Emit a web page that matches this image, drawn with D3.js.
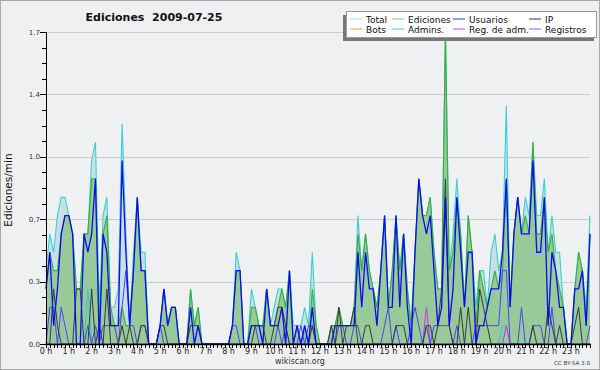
<!DOCTYPE html>
<html><head><meta charset="utf-8">
<script src="https://cdn.jsdelivr.net/npm/d3@7"></script>
<style>body{margin:0;background:#fff}svg{display:block}</style>
</head><body><svg id="c" width="600" height="370"></svg>
<script>
// 10-minute bins, edits per minute
const total = [
.4,.6,.5,.7,.8,.8,.7,.6,.3,.3,.6,.6,
1.0,1.1,.2,.7,.8,.2,.2,.3,1.2,.6,.1,.5,
.8,.5,.5,0,0,0,.1,.3,.1,.2,.2,0,
0,0,.3,.1,.2,0,0,0,0,0,0,0,
0,.1,.5,.4,0,0,.3,.2,.1,.1,.3,.1,
.2,.3,.3,.2,.4,.1,.1,.1,.2,.1,.5,.1,
0,0,0,.1,.1,.2,.1,.1,.1,.2,.7,.4,
.6,.4,.3,.2,.4,.7,.2,.4,.7,.4,.6,.3,
.1,.5,.9,.7,.7,.8,.5,.3,.3,1.7,.4,.6,
.9,.6,.2,.7,.5,.2,.4,.4,.2,.5,.6,.4,
.5,1.3,.2,.6,.8,.6,.8,.7,1.1,.7,.7,.9,
.5,.7,.5,.5,.2,0,0,.3,.5,.4,.2,.7];
const ediciones = [
.3,.5,.4,.4,.6,.7,.7,.6,.3,.3,.6,.6,
.9,.9,.1,.6,.7,.2,.1,.1,.2,.1,.1,.4,
.8,.4,.4,0,0,0,.1,.3,.1,.2,.2,0,
0,0,.3,.1,.2,0,0,0,0,0,0,0,
0,.1,.4,.4,0,0,.2,.2,.1,.1,.3,.1,
.1,.2,.3,.2,.4,0,.1,0,.1,0,.3,.1,
0,0,0,.1,.1,.2,.1,.1,.1,.2,.6,.4,
.6,.4,.3,.2,.4,.7,.2,.4,.7,.4,.6,.3,
.1,.5,.9,.7,.7,.8,.5,.3,.3,1.7,.4,.5,
.8,.6,.2,.7,.5,.1,.4,.3,.2,.3,.4,.3,
.4,.9,.2,.6,.8,.6,.7,.6,1.1,.6,.6,.8,
.5,.6,.4,.3,.2,0,0,.3,.5,.4,.1,.6];
const usuarios = [
.3,.5,.1,.3,.6,.7,.7,.6,0,0,.6,.5,
.6,.9,0,.6,.5,.1,.1,.1,1.0,.5,.1,.4,
.8,.4,.4,0,0,0,.1,.3,.1,.2,.2,0,
0,0,.2,0,.1,0,0,0,0,0,0,0,
0,.1,.4,.4,0,0,.1,.1,.1,0,.3,.1,
.1,.1,.2,0,.4,0,.1,0,.1,0,.2,0,
0,0,0,0,.1,.1,.1,.1,.1,.1,.5,.2,
.5,.3,.3,.1,.4,.7,.2,.2,.7,.2,.6,.2,
0,.5,.9,.7,.6,.7,.4,.1,.2,.8,.1,.3,
.8,.5,.2,.5,.5,0,.1,.1,.2,.3,.3,.3,
.5,.9,.2,.6,.8,.6,.6,.6,1.0,.5,.5,.8,
.1,.5,.4,.2,.2,0,0,.3,.3,.4,.1,.6];
const ip = [
0,0,.3,.1,0,0,0,0,.3,.3,0,0,
.3,0,.1,0,.3,0,0,0,.1,0,.1,0,
0,.1,.1,0,0,0,.1,.1,0,0,0,0,
0,0,.1,.1,.1,0,0,0,0,0,0,0,
0,0,0,0,0,0,0,.1,.1,.1,0,0,
.1,.2,.2,.1,0,0,0,0,0,0,.1,0,
0,0,0,.1,0,.2,0,.1,.1,.2,0,0,
.1,.1,0,0,0,0,0,0,.1,.1,.1,0,
0,0,0,0,.1,.1,0,.1,.3,.9,.1,0,
0,.2,0,.2,0,0,.3,.2,.1,0,0,0,
0,0,0,0,0,0,0,0,.1,0,0,0,
.2,.1,0,.1,0,0,0,.1,.2,0,0,0];
const bots = [
0,0,0,0,0,0,0,0,0,0,0,0, 0,0,0,0,0,0,0,0,0,0,0,0,
0,0,0,0,0,0,0,0,0,0,0,0, 0,0,0,0,0,0,0,0,0,0,0,0,
0,0,0,0,0,0,0,0,0,0,0,0, 0,0,0,0,0,0,0,0,0,0,0,0,
0,0,0,0,0,0,0,0,0,0,0,0, 0,0,0,0,0,0,0,0,0,0,0,0,
0,0,0,0,0,0,0,0,0,0,0,0, 0,0,0,0,0,0,0,0,0,0,0,0,
0,0,0,0,0,0,0,0,0,0,0,0, 0,0,0,0,0,0,0,0,0,0,0,0];
const admins = [
0,0,0,0,0,0,0,0,0,0,0,.3, 0,0,0,0,0,0,0,0,0,0,0,0,
0,0,0,0,0,0,0,0,0,0,0,0, 0,0,0,0,0,0,0,0,0,0,0,0,
0,0,0,0,0,0,0,0,0,0,0,0, 0,0,0,0,0,0,0,0,0,0,0,0,
0,0,0,0,0,0,0,0,0,0,0,0, 0,0,0,0,0,0,0,0,0,0,0,0,
0,0,0,0,0,0,0,0,0,0,0,0, 0,0,0,0,0,0,0,0,0,0,0,0,
.1,.1,0,0,0,0,0,0,0,0,0,0, 0,0,0,0,0,0,0,0,0,0,0,0];
const regAdm = [
0,0,0,0,0,0,0,0,0,0,0,0, 0,0,0,0,0,0,0,0,0,0,0,0,
0,0,0,0,0,0,0,0,0,0,0,0, 0,0,0,0,0,0,0,0,0,0,0,0,
0,0,0,0,0,0,0,0,0,0,0,0, 0,0,0,0,0,0,0,0,0,0,0,0,
0,0,0,0,0,0,0,0,0,0,0,0, 0,0,0,0,0,0,0,0,0,0,0,0,
0,0,0,0,.2,0,0,0,0,0,0,0, 0,0,0,0,0,0,0,0,0,0,0,0,
0,.1,0,0,0,0,0,0,0,0,0,0, 0,0,0,0,0,0,0,0,0,0,0,0];
const registros = [
0,.2,.2,0,.2,.1,0,0,0,0,0,.1,
0,.1,0,.1,.1,.1,.1,0,.2,.4,.1,.1,
0,.1,.1,0,0,0,.1,0,0,0,0,0,
0,0,0,0,0,0,0,0,0,0,0,0,
0,.1,.1,0,0,0,.1,.1,0,0,0,0,
0,.1,0,.1,0,0,0,.1,0,.1,.1,0,
0,0,0,0,0,.1,.1,0,0,.1,.1,0,
0,0,0,0,0,.1,.2,0,.1,0,0,0,
.1,.2,.1,0,.1,0,.1,.1,.1,.1,.1,0,
.1,0,0,0,0,.1,.1,.1,.1,.1,.1,.1,
.4,.4,0,0,0,.2,0,0,.1,.1,.1,0,
0,.2,0,0,0,0,0,0,0,0,0,.1];

const yTicks = [0, 0.34, 0.68, 1.02, 1.36, 1.7];
const hourLabels = d3.range(0, 24).map(h => h + " h");
const legendNames = ["Total","Ediciones","Usuarios","IP","Bots","Admins.","Reg. de adm.","Registros"];
const legendColors = ["#a8dede","#7fca7f","#3434d8","#333333","#f0a040","#40c8d8","#cc44cc","#6a6aee"];

(function(){
const svg = d3.select("#c");
const W = 600, H = 370;
const pl = 46, pr = 590, pt = 32, pb = 344;

svg.append("rect").attr("x",0.5).attr("y",0.5).attr("width",W-1).attr("height",H-1)
  .attr("fill","#eff0f1").attr("stroke","#a8a8a8");

const n = total.length;
const x = d3.scaleLinear().domain([0, n-1]).range([pl, pr]);
const y = d3.scaleLinear().domain([0, 1.7]).range([pb, pt]);

svg.append("g").selectAll("line").data(yTicks).join("line")
  .attr("x1", pl).attr("x2", pr)
  .attr("y1", d => Math.round(y(d))+0.5).attr("y2", d => Math.round(y(d))+0.5)
  .attr("stroke","#cccccc").attr("stroke-width",1);

const area = arr => d3.area().x((d,i)=>x(i)).y0(y(0)).y1(d=>y(d))(arr);
const line = arr => d3.line().x((d,i)=>x(i)).y(d=>y(d))(arr);

svg.append("path").attr("d", area(total)).attr("fill","#c8dfe8");
svg.append("path").attr("d", area(ediciones)).attr("fill","#98c998");
svg.append("path").attr("d", line(total)).attr("fill","none").attr("stroke","#3ccfcf").attr("stroke-width",1.1);
svg.append("path").attr("d", line(ediciones)).attr("fill","none").attr("stroke","#3aad3a").attr("stroke-width",1.1);
svg.append("path").attr("d", line(bots)).attr("fill","none").attr("stroke","#f0a040").attr("stroke-width",1);
svg.append("path").attr("d", line(admins)).attr("fill","none").attr("stroke","#30c8d0").attr("stroke-width",1);
svg.append("path").attr("d", line(regAdm)).attr("fill","none").attr("stroke","#cc33dd").attr("stroke-width",1);
svg.append("path").attr("d", line(registros)).attr("fill","none").attr("stroke","#4646f8").attr("stroke-width",1);
svg.append("path").attr("d", line(ip)).attr("fill","none").attr("stroke","#3a3a3a").attr("stroke-width",1);
svg.append("path").attr("d", line(usuarios)).attr("fill","none").attr("stroke","#0c0cee").attr("stroke-width",1.3);

const yMinor = d3.range(0, 21).map(k => k*0.085);
const gy = svg.append("g");
gy.selectAll("line.mi").data(yMinor).join("line").attr("class","mi")
  .attr("x1", pl-4).attr("x2", pl).attr("y1", d=>Math.round(y(d))+0.5).attr("y2", d=>Math.round(y(d))+0.5)
  .attr("stroke","#000");
gy.selectAll("line.ma").data(yTicks).join("line").attr("class","ma")
  .attr("x1", pl-6).attr("x2", pl).attr("y1", d=>Math.round(y(d))+0.5).attr("y2", d=>Math.round(y(d))+0.5)
  .attr("stroke","#000");
gy.selectAll("text").data(yTicks).join("text")
  .attr("x", pl-6).attr("y", d=>y(d)+2.5).attr("text-anchor","end")
  .attr("font-family","DejaVu Sans").attr("font-size",7).attr("fill","#333")
  .text(d => d.toFixed(1));
gy.append("line").attr("x1",pl+0.5).attr("x2",pl+0.5).attr("y1",pt).attr("y2",pb+1).attr("stroke","#000");

const xMinor = d3.range(0, n);
const gx = svg.append("g");
gx.selectAll("line.mi").data(xMinor).join("line").attr("class","mi")
  .attr("x1", d=>Math.round(x(d))+0.5).attr("x2", d=>Math.round(x(d))+0.5)
  .attr("y1", pb).attr("y2", pb+4).attr("stroke","#000");
gx.selectAll("text").data(hourLabels).join("text")
  .attr("x", (d,i)=>x(i*6)).attr("y", 354).attr("text-anchor","middle")
  .attr("font-family","DejaVu Sans").attr("font-size",8).attr("fill","#222")
  .text(d=>d);
gx.append("line").attr("x1",pl).attr("x2",pr+1).attr("y1",pb+0.5).attr("y2",pb+0.5).attr("stroke","#000").attr("stroke-width",1.5);

svg.append("text").attr("x",154).attr("y",21).attr("text-anchor","middle")
  .attr("font-family","DejaVu Sans").attr("font-weight","bold").attr("font-size",11)
  .style("white-space","pre").attr("fill","#111").text("Ediciones  2009-07-25");
svg.append("text").attr("transform","translate(12,190) rotate(-90)").attr("text-anchor","middle")
  .attr("font-family","DejaVu Sans").attr("font-size",10.5).attr("fill","#111").text("Ediciones/min");
svg.append("text").attr("x",300).attr("y",364).attr("text-anchor","middle")
  .attr("font-family","DejaVu Sans").attr("font-size",8).attr("fill","#333").text("wikiscan.org");
svg.append("text").attr("x",590).attr("y",365).attr("text-anchor","end")
  .attr("font-family","DejaVu Sans").attr("font-size",5.6).attr("fill","#444").text("CC BY-SA 3.0");

const lg = svg.append("g");
lg.append("rect").attr("x",343).attr("y",15).attr("width",251).attr("height",26).attr("fill","#777");
lg.append("rect").attr("x",346.5).attr("y",11.5).attr("width",250).attr("height",26).attr("fill","#fff").attr("stroke","#999");
const colX = [350, 392, 453, 529];
const rowY = [22.5, 32.5];
legendNames.forEach((name, k) => {
  const cx = colX[k % 4], cy = rowY[Math.floor(k/4)];
  lg.append("line").attr("x1",cx).attr("x2",cx+12).attr("y1",cy-3.5).attr("y2",cy-3.5)
    .attr("stroke",legendColors[k]).attr("stroke-width",1);
  lg.append("text").attr("x",cx+16).attr("y",cy).attr("font-family","DejaVu Sans").attr("font-size",9)
    .attr("fill","#111").text(name);
});
})();
</script></body></html>
